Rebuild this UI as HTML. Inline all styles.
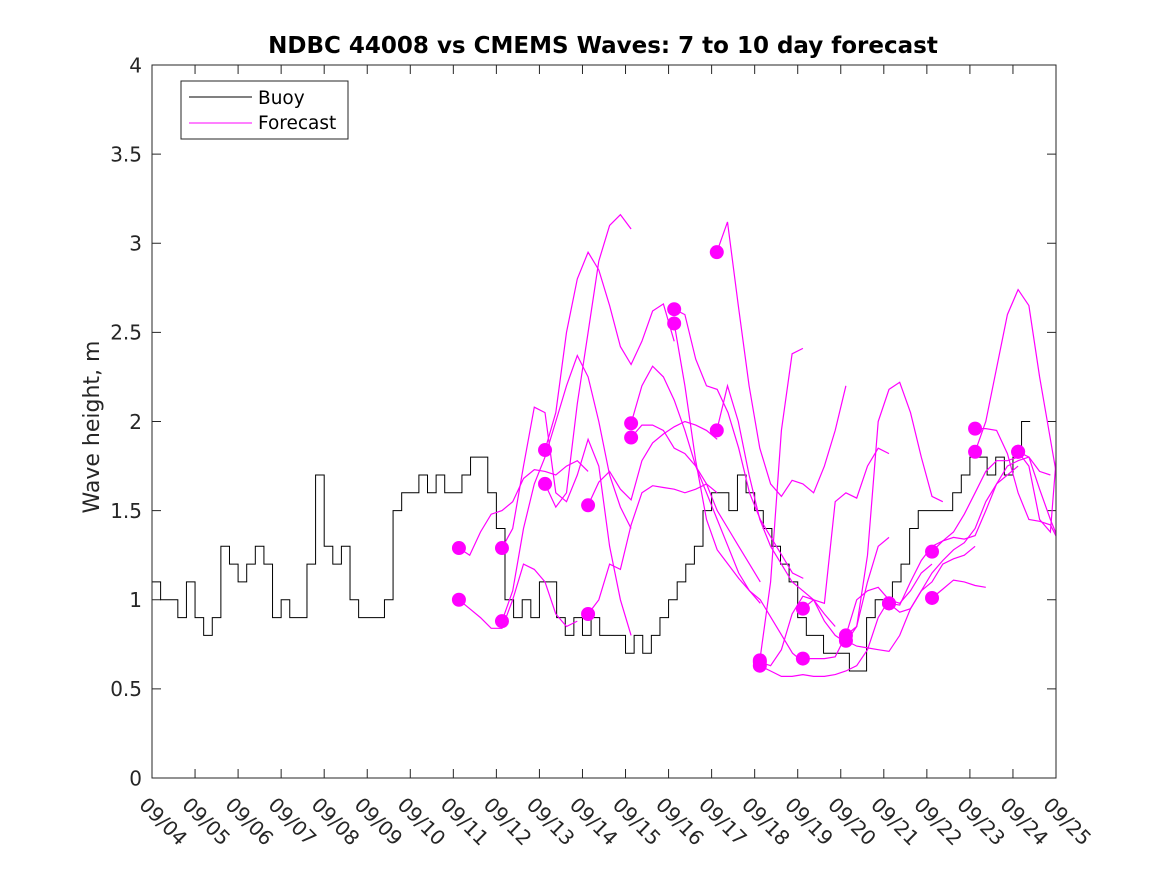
<!DOCTYPE html>
<html><head><meta charset="utf-8"><style>
html,body{margin:0;padding:0;background:#fff;}
svg text{font-family:"DejaVu Sans","Liberation Sans",sans-serif;fill:#262626;}
</style></head><body>
<svg id="chart" width="1167" height="875" xmlns="http://www.w3.org/2000/svg">
<rect width="1167" height="875" fill="#fff"/>
<text x="603" y="53" text-anchor="middle" font-size="23" font-weight="bold" style="fill:#000">NDBC 44008 vs CMEMS Waves: 7 to 10 day forecast</text>
<text transform="translate(99,427) rotate(-90)" text-anchor="middle" font-size="22">Wave height, m</text>
<g id="plot"></g>
<rect x="152" y="65" width="904" height="713" fill="none" stroke="#262626" stroke-width="1"/>
<g>
<rect x="181" y="81" width="167" height="58" fill="#fff" stroke="#262626" stroke-width="1"/>
<line x1="189" y1="97" x2="252" y2="97" stroke="#000" stroke-width="1"/>
<text x="258" y="104" font-size="18.5" style="fill:#000">Buoy</text>
<line x1="189" y1="123" x2="252" y2="123" stroke="#ff00ff" stroke-width="1"/>
<text x="258" y="129" font-size="18.5" style="fill:#000">Forecast</text>
</g>
</svg>
<script>
const xTickLabels = ["09/04","09/05","09/06","09/07","09/08","09/09","09/10","09/11","09/12","09/13","09/14","09/15","09/16","09/17","09/18","09/19","09/20","09/21","09/22","09/23","09/24","09/25"];
const yTicks = [0,0.5,1,1.5,2,2.5,3,3.5,4];
const yTickLabels = ["0","0.5","1","1.5","2","2.5","3","3.5","4"];
const buoyStep = 0.2;
const buoyValues = [1.1,1.0,1.0,0.9,1.1,0.9,0.8,0.9,1.3,1.2,1.1,1.2,1.3,1.2,0.9,1.0,0.9,0.9,1.2,1.7,1.3,1.2,1.3,1.0,0.9,0.9,0.9,1.0,1.5,1.6,1.6,1.7,1.6,1.7,1.6,1.6,1.7,1.8,1.8,1.6,1.4,1.0,0.9,1.0,0.9,1.1,1.1,0.9,0.8,0.9,0.8,0.9,0.8,0.8,0.8,0.7,0.8,0.7,0.8,0.9,1.0,1.1,1.2,1.3,1.5,1.6,1.6,1.5,1.7,1.6,1.5,1.4,1.3,1.2,1.1,0.9,0.8,0.8,0.7,0.7,0.7,0.6,0.6,0.9,1.0,1.0,1.1,1.2,1.4,1.5,1.5,1.5,1.5,1.6,1.7,1.8,1.8,1.7,1.8,1.7,1.8,2.0];
const forecastStep = 0.25;
const forecastStartDays = [7.13,7.13,8.13,8.13,9.13,9.13,10.13,10.13,11.13,11.13,12.13,12.13,13.12,13.12,14.12,14.12,14.12,15.12,15.12,16.12,16.12,17.12,17.12,18.12,18.12,19.12,19.12,20.12,20.12];
const forecastValues = [
[1.29,1.25,1.38,1.48,1.50,1.55,1.68,1.73,1.72,1.70,1.75,1.78,1.72],
[1.0,0.95,0.90,0.84,0.84,1.0,1.2,1.17,1.1,0.92,0.85,0.88],
[1.29,1.4,1.75,2.08,2.05,1.6,1.55,1.7,1.9,1.75,1.3,1.0,0.8],
[0.88,1.05,1.4,1.65,1.8,2.0,2.2,2.37,2.25,2.0,1.7,1.52,1.4],
[1.84,2.05,2.5,2.8,2.95,2.85,2.65,2.42,2.32,2.45,2.62,2.66,2.45],
[1.65,1.52,1.6,2.1,2.5,2.9,3.1,3.16,3.08],
[1.53,1.66,1.72,1.62,1.56,1.78,1.88,1.93,1.97,2.0,1.98,1.95,1.9],
[0.92,1.0,1.2,1.17,1.42,1.6,1.64,1.63,1.62,1.60,1.62,1.65,1.6],
[1.99,2.2,2.31,2.25,2.12,1.95,1.75,1.6,1.45,1.3,1.15,1.05,0.98],
[1.91,1.98,1.98,1.95,1.85,1.82,1.75,1.65,1.5,1.4,1.3,1.2,1.1],
[2.63,2.6,2.35,2.2,2.18,2.05,1.85,1.6,1.45,1.35,1.25,1.15,1.12],
[2.55,2.2,1.78,1.45,1.28,1.2,1.12,1.05,1.0,0.9,0.8,0.7,0.65],
[2.95,3.12,2.65,2.2,1.85,1.65,1.58,1.67,1.65,1.6,1.75,1.95,2.2],
[1.95,2.2,2.0,1.7,1.45,1.3,1.2,1.1,1.05,1.0,0.92,0.85],
[0.66,1.1,1.95,2.38,2.41],
[0.65,0.63,0.72,0.92,1.02,1.0,0.88,0.8,0.76,0.85,1.1,1.3,1.35],
[0.63,0.6,0.57,0.57,0.58,0.57,0.57,0.58,0.6,0.63,0.72,0.9,1.0],
[0.95,1.0,0.98,1.55,1.6,1.57,1.75,1.85,1.82],
[0.67,0.67,0.67,0.68,0.8,1.0,1.05,1.07,1.0,0.98,1.05,1.15,1.2],
[0.80,0.85,1.25,2.0,2.18,2.22,2.05,1.8,1.58,1.55],
[0.77,0.74,0.73,0.72,0.71,0.8,0.95,1.05,1.1,1.2,1.23,1.25,1.3],
[0.98,0.93,0.95,1.05,1.15,1.22,1.28,1.32,1.4,1.55,1.65,1.7,1.75],
[0.98,0.97,1.1,1.22,1.3,1.33,1.38,1.48,1.6,1.72,1.78,1.78,1.8],
[1.27,1.33,1.35,1.34,1.36,1.5,1.65,1.75,1.78,1.8,1.72,1.7],
[1.01,1.06,1.11,1.1,1.08,1.07],
[1.96,1.96,1.95,1.82,1.6,1.45,1.44,1.42,1.3],
[1.83,2.0,2.3,2.6,2.74,2.65,2.25,1.9,1.55,1.35],
[1.83,1.75,1.45,1.38,2.15],
[1.83,1.8,1.62,1.45,1.3]
];
const NS="http://www.w3.org/2000/svg";
const X0=152,X1=1056,Y0=778,Y1=65,DAYS=21,YMAX=4;
function xs(d){return X0+(X1-X0)*d/DAYS;}
function ys(v){return Y0-(Y0-Y1)*v/YMAX;}
const plot=document.getElementById('plot');
function mk(tag,attrs){const e=document.createElementNS(NS,tag);for(const k in attrs)e.setAttribute(k,attrs[k]);return e;}
const defs=mk('defs',{});const cp=mk('clipPath',{id:'clip'});cp.appendChild(mk('rect',{x:X0,y:Y1,width:X1-X0,height:Y0-Y1}));defs.appendChild(cp);plot.appendChild(defs);
yTicks.forEach((t,i)=>{
  const y=ys(t);
  const l=mk('path',{d:`M${X0} ${y}h9M${X1} ${y}h-9`,stroke:'#262626','stroke-width':1});
  
  
  plot.appendChild(l);
  const tx=mk('text',{x:X0-10,y:y+7.3,'text-anchor':'end','font-size':20});
  tx.textContent=yTickLabels[i];
  
  
  plot.appendChild(tx);
});
xTickLabels.forEach((lab,i)=>{
  const x=xs(i);
  const l=mk('path',{d:`M${x} ${Y0}v-9M${x} ${Y1}v9`,stroke:'#262626','stroke-width':1});
  
  
  plot.appendChild(l);
  const tx=mk('text',{x:0,y:0,'font-size':20,transform:`translate(${x-14},${Y0+28}) rotate(45)`});
  tx.textContent=lab;
  
  
  plot.appendChild(tx);
});
let d='';
buoyValues.forEach((v,i)=>{const x0=xs(i*buoyStep),x1=xs((i+1)*buoyStep),y=ys(v);d+=(i===0?`M${x0} ${y}`:`L${x0} ${y}`)+`L${x1} ${y}`;});
const bl=mk('path',{d:d,fill:'none',stroke:'#000','stroke-width':1,'clip-path':'url(#clip)'});


plot.appendChild(bl);
forecastValues.forEach((vals,k)=>{
  const s=forecastStartDays[k];
  const pts=vals.map((v,i)=>`${xs(s+i*forecastStep).toFixed(1)},${ys(v).toFixed(1)}`).join(' ');
  const pl=mk('polyline',{points:pts,fill:'none',stroke:'#ff00ff','stroke-width':1.2,'clip-path':'url(#clip)'});
  
  
  plot.appendChild(pl);
});
forecastValues.forEach((vals,k)=>{
  const c=mk('circle',{cx:xs(forecastStartDays[k]),cy:ys(vals[0]),r:7,fill:'#ff00ff'});
  
  
  plot.appendChild(c);
});
</script>
</body></html>
